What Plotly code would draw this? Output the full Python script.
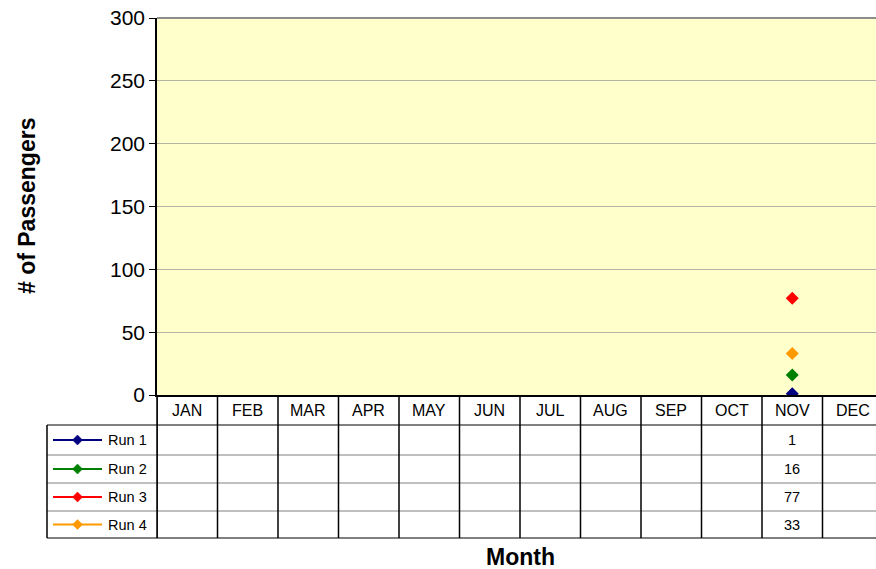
import plotly.graph_objects as go

months = ["JAN", "FEB", "MAR", "APR", "MAY", "JUN", "JUL", "AUG", "SEP", "OCT", "NOV", "DEC"]
series_names = ["Run 1", "Run 2", "Run 3", "Run 4"]
run1 = [None, None, None, None, None, None, None, None, None, None, 1, None]
run2 = [None, None, None, None, None, None, None, None, None, None, 16, None]
run3 = [None, None, None, None, None, None, None, None, None, None, 77, None]
run4 = [None, None, None, None, None, None, None, None, None, None, 33, None]
colors = ["#000080", "#008000", "#FF0000", "#FF9900"]
y_ticks = [0, 50, 100, 150, 200, 250, 300]

W, H = 876, 569
L, T, B = 157, 18, 174
PLOT_W = W - L
PLOT_H = H - T - B
COL_W = 60.5
X_MAX = -0.5 + PLOT_W / COL_W

FONT = "Liberation Sans, Arial, sans-serif"


def px(x):
    return (x - L) / PLOT_W


def py(y):
    return (T + PLOT_H - y) / PLOT_H


fig = go.Figure()
all_series = [run1, run2, run3, run4]
for name, vals, c in zip(series_names, all_series, colors):
    fig.add_trace(go.Scatter(
        x=list(range(len(months))), y=vals, name=name, mode="lines+markers",
        line=dict(color=c, width=2),
        marker=dict(symbol="diamond", size=10, color=c),
        showlegend=False,
    ))

shapes = []
annotations = []

# top border of plot
shapes.append(dict(type="line", xref="paper", yref="paper", x0=0, x1=1, y0=1, y1=1,
                   line=dict(color="#8c8c8c", width=2)))

# table geometry (pixels)
header_top = T + PLOT_H  # 395
row_bounds = [425, 455, 483, 511, 538]
legend_left = 47

# horizontal lines for data rows
for i, yb in enumerate(row_bounds):
    shapes.append(dict(type="line", xref="paper", yref="paper", x0=px(legend_left), x1=1.02,
                       y0=py(yb), y1=py(yb),
                       line=dict(color="#808080", width=2 if i in (0, len(row_bounds) - 1) else 1)))

# vertical column lines
for k in range(len(months) + 1):
    shapes.append(dict(type="line", xref="x", yref="paper", x0=k - 0.5, x1=k - 0.5,
                       y0=py(header_top), y1=py(row_bounds[-1]),
                       line=dict(color="black", width=1.5)))
# y axis line extension into table
shapes.append(dict(type="line", xref="paper", yref="paper", x0=0, x1=0,
                   y0=py(header_top), y1=py(row_bounds[-1]), line=dict(color="black", width=1.5)))
# left border of legend column
shapes.append(dict(type="line", xref="paper", yref="paper", x0=px(legend_left), x1=px(legend_left),
                   y0=py(row_bounds[0]), y1=py(row_bounds[-1]), line=dict(color="black", width=1.5)))

# month header labels
for k, m in enumerate(months):
    annotations.append(dict(x=k, y=py((header_top + row_bounds[0]) / 2), xref="x", yref="paper",
                            text=m, showarrow=False, font=dict(family=FONT, size=16, color="black"),
                            xanchor="center", yanchor="middle"))

# legend keys and values
for r, (name, vals, c) in enumerate(zip(series_names, all_series, colors)):
    yc = (row_bounds[r] + row_bounds[r + 1]) / 2
    shapes.append(dict(type="line", xref="paper", yref="paper", x0=px(53), x1=px(102),
                       y0=py(yc), y1=py(yc), line=dict(color=c, width=2)))
    d = 5
    cx = 77.5
    path = "M {} {} L {} {} L {} {} L {} {} Z".format(
        px(cx - d), py(yc), px(cx), py(yc - d), px(cx + d), py(yc), px(cx), py(yc + d))
    shapes.append(dict(type="path", xref="paper", yref="paper", path=path,
                       fillcolor=c, line=dict(color=c, width=0.5)))
    annotations.append(dict(x=px(106), y=py(yc), xref="paper", yref="paper", text=name,
                            showarrow=False, xanchor="left", yanchor="middle",
                            font=dict(family=FONT, size=14.5, color="black")))
    for k, v in enumerate(vals):
        if v is not None:
            annotations.append(dict(x=k, y=py(yc), xref="x", yref="paper", text=str(v),
                                    showarrow=False, xanchor="center", yanchor="middle",
                                    font=dict(family=FONT, size=14.5, color="black")))

# axis titles
annotations.append(dict(x=px(27), y=py(206), xref="paper", yref="paper", text="<b># of Passengers</b>",
                        textangle=-90, showarrow=False, xanchor="center", yanchor="middle",
                        font=dict(family=FONT, size=23, color="black")))
annotations.append(dict(x=px(520), y=py(557), xref="paper", yref="paper", text="<b>Month</b>",
                        showarrow=False, xanchor="center", yanchor="middle",
                        font=dict(family=FONT, size=23, color="black")))

fig.update_layout(
    width=W, height=H,
    margin=dict(l=L, r=0, t=T, b=B, pad=0),
    paper_bgcolor="white",
    plot_bgcolor="#FFFFCC",
    showlegend=False,
    hovermode=False,
    shapes=shapes,
    annotations=annotations,
    xaxis=dict(range=[-0.5, X_MAX], showticklabels=False, showgrid=False, zeroline=False,
               showline=True, linecolor="black", linewidth=2, ticks=""),
    yaxis=dict(range=[0, 300], tickvals=y_ticks, showgrid=True, gridcolor="#b4b4a6", gridwidth=1,
               zeroline=False, showline=True, linecolor="black", linewidth=1.5,
               ticks="outside", ticklen=6, tickcolor="black", tickwidth=1,
               tickfont=dict(family=FONT, size=21, color="black")),
)

fig.write_html("out.html", config={"displayModeBar": False},
               post_script="document.body.style.margin='0';document.body.style.overflow='hidden';")
